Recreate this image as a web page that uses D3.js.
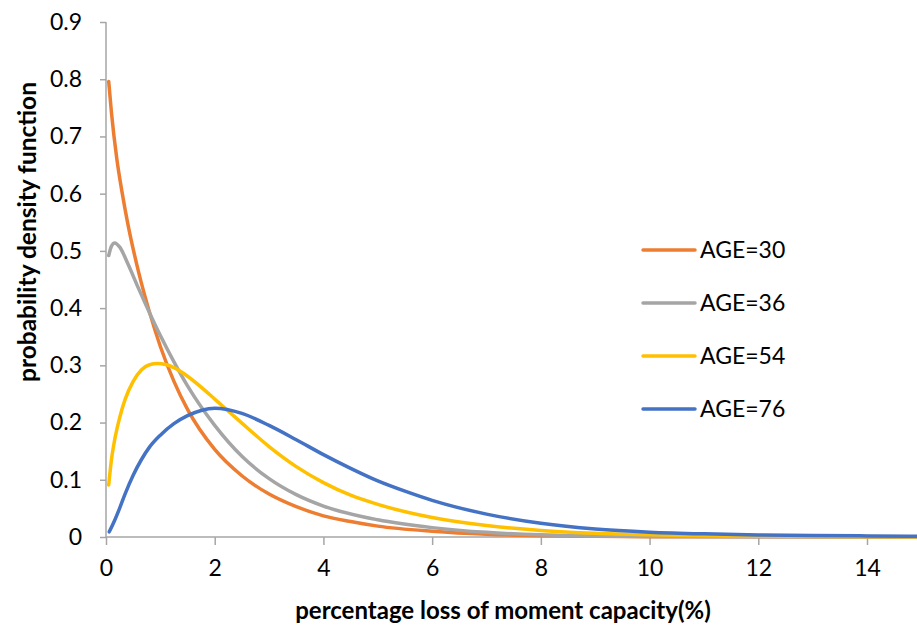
<!DOCTYPE html>
<html>
<head>
<meta charset="utf-8">
<script src="https://cdn.jsdelivr.net/npm/d3@7"></script>
<style>
  html, body { margin: 0; padding: 0; background: #fff; }
  svg { display: block; }
  text { font-family: Lato, "Open Sans", sans-serif; fill: #000; }
</style>
</head>
<body>
<svg id="chart" width="917" height="628"></svg>
<script>
// Probability density of percentage loss of moment capacity, by age.
const seriesNames = ["AGE=30", "AGE=36", "AGE=54", "AGE=76"];
const seriesColors = ["#ED7D31", "#A5A5A5", "#FFC000", "#4472C4"];

const age30x = [0.05, 0.1, 0.2, 0.3, 0.4, 0.6, 0.8, 1.0, 1.25, 1.5, 2.0, 2.5, 3.0, 3.5, 4.0, 4.5, 5.0, 6.0, 7.0, 8.0, 10.0, 15.0];
const age30y = [0.796, 0.742, 0.660, 0.600, 0.548, 0.463, 0.393, 0.333, 0.272, 0.223, 0.153, 0.107, 0.075, 0.053, 0.037, 0.027, 0.019, 0.010, 0.0047, 0.0022, 0.0004, 0.0];

const age36x = [0.05, 0.1, 0.16, 0.25, 0.4, 0.6, 0.8, 1.0, 1.25, 1.5, 2.0, 2.5, 3.0, 3.5, 4.0, 5.0, 6.0, 7.0, 8.0, 10.0, 15.0];
const age36y = [0.492, 0.508, 0.514, 0.507, 0.478, 0.434, 0.392, 0.352, 0.306, 0.264, 0.195, 0.141, 0.102, 0.074, 0.054, 0.030, 0.0164, 0.0081, 0.0038, 0.0008, 0.0001];

const age54x = [0.05, 0.1, 0.15, 0.25, 0.35, 0.5, 0.65, 0.8, 0.95, 1.25, 1.5, 1.75, 2.0, 2.5, 3.0, 3.5, 4.0, 4.5, 5.0, 6.0, 7.0, 8.0, 9.0, 10.0, 12.0, 15.0];
const age54y = [0.091, 0.135, 0.165, 0.208, 0.240, 0.272, 0.292, 0.301, 0.303, 0.296, 0.281, 0.262, 0.241, 0.199, 0.158, 0.123, 0.095, 0.073, 0.057, 0.034, 0.020, 0.0115, 0.0065, 0.0038, 0.0013, 0.0003];

const age76x = [0.06, 0.15, 0.25, 0.35, 0.5, 0.65, 0.8, 1.0, 1.25, 1.5, 1.75, 2.0, 2.5, 3.0, 3.5, 4.0, 4.5, 5.0, 5.5, 6.0, 7.0, 8.0, 9.0, 10.0, 11.0, 12.0, 13.0, 14.0, 15.0];
const age76y = [0.009, 0.027, 0.050, 0.075, 0.108, 0.135, 0.157, 0.178, 0.198, 0.212, 0.221, 0.225, 0.216, 0.195, 0.170, 0.144, 0.120, 0.098, 0.080, 0.064, 0.040, 0.024, 0.014, 0.0085, 0.0055, 0.0037, 0.0026, 0.0019, 0.0014];

const xTicks = [0, 2, 4, 6, 8, 10, 12, 14];
const yTicks = [0, 0.1, 0.2, 0.3, 0.4, 0.5, 0.6, 0.7, 0.8, 0.9];

const xTitle = "percentage loss of moment capacity(%)";
const yTitle = "probability density function";

const seriesX = [age30x, age36x, age54x, age76x];
const seriesY = [age30y, age36y, age54y, age76y];

const svg = d3.select("#chart");
const W = 917, H = 628;
const plotLeft = 106, plotTop = 22, plotBottom = 537;

const x = d3.scaleLinear().domain([0, 14]).range([plotLeft, 867]);
const y = d3.scaleLinear().domain([0, 0.9]).range([plotBottom, plotTop]);

svg.append("defs").append("clipPath").attr("id", "plotclip")
  .append("rect").attr("x", plotLeft).attr("y", 0).attr("width", W - plotLeft).attr("height", plotBottom + 2);

const axisColor = "#A6A6A6";

// y axis
const yAxis = svg.append("g").attr("transform", `translate(${plotLeft},0)`)
  .call(d3.axisLeft(y).tickValues(yTicks).tickSize(6).tickPadding(18)
    .tickFormat(d => d === 0 ? "0" : d3.format(".1f")(d)));
yAxis.select(".domain").attr("stroke", axisColor).attr("stroke-width", 1.5)
  .attr("d", `M0,${plotTop}V${plotBottom}`);
yAxis.selectAll(".tick line").attr("stroke", axisColor).attr("stroke-width", 1.5);
yAxis.selectAll(".tick text").attr("font-size", 23).attr("font-family", "Lato, sans-serif").attr("fill", "#000");

// x axis
const xAxis = svg.append("g").attr("transform", `translate(0,${plotBottom})`)
  .call(d3.axisBottom(x).tickValues(xTicks).tickSize(8).tickPadding(15).tickFormat(d3.format("d")));
xAxis.select(".domain").attr("stroke", axisColor).attr("stroke-width", 1.5)
  .attr("d", `M${plotLeft},0H${W}`);
xAxis.selectAll(".tick line").attr("stroke", axisColor).attr("stroke-width", 1.5);
xAxis.selectAll(".tick text").attr("font-size", 23).attr("font-family", "Lato, sans-serif").attr("fill", "#000");

// curves
const line = d3.line()
  .x(d => x(d[0]))
  .y(d => y(d[1]))
  .curve(d3.curveMonotoneX);

const plot = svg.append("g").attr("clip-path", "url(#plotclip)");
seriesNames.forEach((name, i) => {
  const pts = seriesX[i].map((v, j) => [v, seriesY[i][j]]);
  plot.append("path")
    .datum(pts)
    .attr("fill", "none")
    .attr("stroke", seriesColors[i])
    .attr("stroke-width", 3.5)
    .attr("stroke-linecap", "round")
    .attr("stroke-linejoin", "round")
    .attr("d", line);
});

// legend
const legend = svg.append("g");
seriesNames.forEach((name, i) => {
  const ly = 250 + i * 53;
  legend.append("line")
    .attr("x1", 643).attr("x2", 695).attr("y1", ly).attr("y2", ly)
    .attr("stroke", seriesColors[i]).attr("stroke-width", 3.5).attr("stroke-linecap", "round");
  legend.append("text")
    .attr("x", 700).attr("y", ly).attr("dy", "0.36em")
    .attr("font-size", 23)
    .text(name);
});

// axis titles
svg.append("text")
  .attr("x", 503).attr("y", 610).attr("dy", "0.36em")
  .attr("text-anchor", "middle")
  .attr("font-size", 24).attr("font-weight", "bold")
  .text(xTitle);

svg.append("text")
  .attr("transform", "translate(27,232) rotate(-90)")
  .attr("dy", "0.36em")
  .attr("text-anchor", "middle")
  .attr("font-size", 24.5).attr("font-weight", "bold")
  .text(yTitle);
</script>
</body>
</html>
